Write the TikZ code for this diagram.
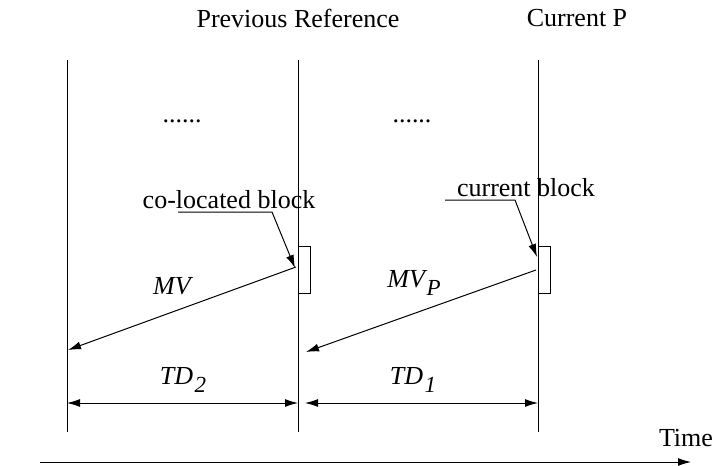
\documentclass[tikz,border=0pt]{standalone}
\usepackage{fontspec}
\setmainfont{Liberation Serif}
\usepackage{tikz}
\usetikzlibrary{arrows.meta}
\tikzstyle{label} = [inner sep=0pt, font=\fontsize{13}{15}\selectfont]
\tikzstyle{mvlabel} = [inner sep=0pt, font=\fontsize{13}{15}\selectfont\itshape]
\tikzstyle{blockbox} = [rectangle, draw=black, line width=0.5pt, minimum width=6pt, minimum height=23.5pt, inner sep=0pt, anchor=north west]
\tikzstyle{tip} = [-{Latex[length=6.5pt,width=4pt]}]
\tikzstyle{dtip} = [{Latex[length=6.5pt,width=4pt]}-{Latex[length=6.5pt,width=4pt]}]
\newcommand{\lowsub}[1]{\kern0.8pt\raisebox{-0.6ex}{\fontsize{11.5}{13}\selectfont #1}}

\begin{document}
\begin{tikzpicture}[x=0.5pt, y=-0.5pt, line width=0.5pt]

    \useasboundingbox (0,0) rectangle (714,466);

    \node (prevTitle) [label] at (298,18) {Previous Reference};
    \node (curTitle) [label] at (577,18) {Current P};

    \coordinate (farTop) at (67,60);
    \coordinate (farBot) at (67,432);
    \coordinate (prevTop) at (298,60);
    \coordinate (prevBot) at (298,432);
    \coordinate (curTop) at (538,60);
    \coordinate (curBot) at (538,432);

    \draw (farTop) -- (farBot);
    \draw (prevTop) -- (prevBot);
    \draw (curTop) -- (curBot);

    \node (dotsLeft) [label] at (182,121) {......};
    \node (dotsRight) [label] at (412,121) {......};

    \node (colocBlock) [blockbox] at (298,246) {};
    \node (curBlock) [blockbox] at (538,246) {};

    \node (colocText) [label] at (229,200) {co-located block};
    \node (curText) [label] at (526,188) {current block};

    \coordinate (colocLeadA) at (178,212);
    \coordinate (colocLeadB) at (272,212);
    \coordinate (colocHit) at (295,268);
    \coordinate (curLeadA) at (445,200);
    \coordinate (curLeadB) at (515,200);
    \coordinate (curHit) at (537,257);

    \draw[tip] (colocLeadA) -- (colocLeadB) -- (colocHit);
    \draw[tip] (curLeadA) -- (curLeadB) -- (curHit);

    \coordinate (mvStart) at (296,267);
    \coordinate (mvEnd) at (68,350);
    \coordinate (mvpStart) at (536,270);
    \coordinate (mvpEnd) at (306,352);

    \draw[tip] (mvStart) -- (mvEnd);
    \draw[tip] (mvpStart) -- (mvpEnd);

    \node (mvText) [mvlabel] at (172,286) {MV};
    \node (mvpText) [mvlabel] at (414,283) {MV\lowsub{P}};

    \coordinate (tdTwoA) at (67,403);
    \coordinate (tdTwoB) at (298,403);
    \coordinate (tdOneA) at (305,403);
    \coordinate (tdOneB) at (538,403);

    \draw[dtip] (tdTwoA) -- (tdTwoB);
    \draw[dtip] (tdOneA) -- (tdOneB);

    \node (tdTwoText) [mvlabel] at (183,380) {TD\lowsub{2}};
    \node (tdOneText) [mvlabel] at (413,380) {TD\lowsub{1}};

    \coordinate (timeStart) at (40,462);
    \coordinate (timeEnd) at (691,462);
    \draw[tip] (timeStart) -- (timeEnd);
    \node (timeText) [label] at (686,438) {Time};

\end{tikzpicture}
\end{document}
